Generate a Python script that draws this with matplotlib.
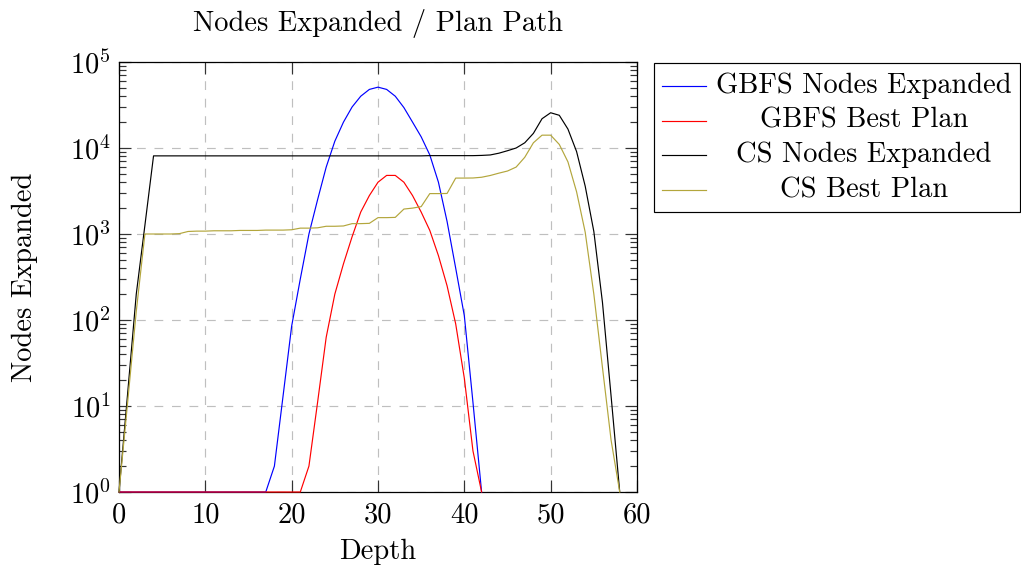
import matplotlib
matplotlib.use("Agg")
import matplotlib.pyplot as plt
from matplotlib.lines import Line2D
from matplotlib.patches import Rectangle
from matplotlib.transforms import Affine2D
from matplotlib.ticker import LogLocator, NullFormatter

# ---------------- data ----------------
depth_gbfs = list(range(0, 43))
depth_cs = list(range(0, 59))

gbfs_nodes = [1] * 18 + [2, 13, 85, 300, 1000, 2500, 6000, 12000, 20000, 30000,
                         40000, 48000, 51000, 48000, 40000, 29500, 20000, 13500,
                         8300, 4000, 1400, 400, 112, 11, 1]
gbfs_best = [1] * 22 + [2, 11, 63, 200, 450, 930, 1800, 2800, 4000, 4800, 4800,
                        4000, 2800, 1800, 1100, 560, 250, 90, 21, 3, 1]
cs_nodes = [1, 14, 200, 1260] + [8100] * 32 + [8150] * 6 + [8200, 8300, 8700,
            9300, 10000, 11500, 14800, 21900, 25700, 24000, 16600, 9100, 3600,
            1070, 160, 13, 1]
cs_best = [1, 11, 126, 1000, 1000, 1000, 1000, 1010, 1070, 1080, 1080, 1090, 1090,
           1090, 1100, 1100, 1100, 1110, 1110, 1110, 1120, 1170, 1170, 1180, 1230,
           1230, 1240, 1320, 1320, 1330, 1550, 1550, 1560, 1950, 2000, 2080, 2950,
           2950, 2960, 4470, 4470, 4480, 4570, 4790, 5100, 5400, 6000, 7800, 11500,
           14100, 14100, 11000, 6900, 3100, 1050, 200, 28, 4, 1]

labels = ["GBFS Nodes Expanded", "GBFS Best Plan", "CS Nodes Expanded", "CS Best Plan"]
title = "Nodes Expanded / Plan Path"
xlabel = "Depth"
ylabel = "Nodes Expanded"
xticks = [0, 10, 20, 30, 40, 50, 60]

# ---------------- style ----------------
colors = ["#0000ff", "#ff0000", "#000000", "#b3a63c"]
FS = 20.5
LW = 0.85

plt.rcParams["font.family"] = "serif"
plt.rcParams["font.serif"] = ["cmr10", "DejaVu Serif"]
plt.rcParams["mathtext.fontset"] = "cm"
plt.rcParams["axes.formatter.use_mathtext"] = True
plt.rcParams["lines.scale_dashes"] = False

W, H = 1021, 571
fig = plt.figure(figsize=(W / 100, H / 100), dpi=100)
L, R, T, B = 119, 637, 62, 492
ax = fig.add_axes([L / W, 1 - B / H, (R - L) / W, (B - T) / H])

series = [(depth_gbfs, gbfs_nodes), (depth_gbfs, gbfs_best),
          (depth_cs, cs_nodes), (depth_cs, cs_best)]
for (xs, ys), c in zip(series, colors):
    ax.plot(xs, ys, color=c, lw=LW, zorder=3, clip_on=False)

ax.set_yscale("log")
ax.set_xlim(0, 60)
ax.set_ylim(1, 1e5)
ax.set_xticks(xticks)
ax.set_xticklabels([str(t) for t in xticks])
ax.yaxis.set_major_locator(LogLocator(base=10, numticks=10))
ax.yaxis.set_minor_locator(LogLocator(base=10, subs=range(2, 10), numticks=20))
ax.yaxis.set_minor_formatter(NullFormatter())

ax.grid(True, which="major", color="#bfbfbf", lw=0.85, linestyle=(0, (6.3, 6.3)), zorder=1)
ax.set_axisbelow(True)
ax.tick_params(which="both", direction="in", top=True, right=True, width=0.85, color="#333333")
ax.tick_params(which="major", length=8.5, labelsize=FS)
ax.tick_params(which="minor", length=5.2)
ax.tick_params(axis="x", pad=7)
ax.tick_params(axis="y", pad=6)
for s in ax.spines.values():
    s.set_linewidth(0.9)
    s.set_zorder(2.5)

ax.set_title(title, fontsize=FS, pad=22)
ax.set_xlabel(xlabel, fontsize=FS)
ax.set_ylabel(ylabel, fontsize=FS)
ax.xaxis.set_label_coords(0.5, -0.108)
ax.yaxis.set_label_coords(-0.157, 0.5)

# ---------------- legend (pgfplots style, centered text) ----------------
px = Affine2D().scale(1 / W, -1 / H).translate(0, 1) + fig.transFigure
fig.add_artist(Rectangle((653.5, 62.5), 366.5, 149.5, transform=px, fill=False,
                         edgecolor="black", lw=0.85))
row_y = [85.5, 120.5, 155, 190]
for lab, c, yy in zip(labels, colors, row_y):
    fig.add_artist(Line2D([662, 706], [yy, yy], transform=px, color=c, lw=LW))
    fig.text(864 / W, 1 - yy / H, lab, fontsize=FS, ha="center", va="center")

fig.savefig("out.png", dpi=100)
